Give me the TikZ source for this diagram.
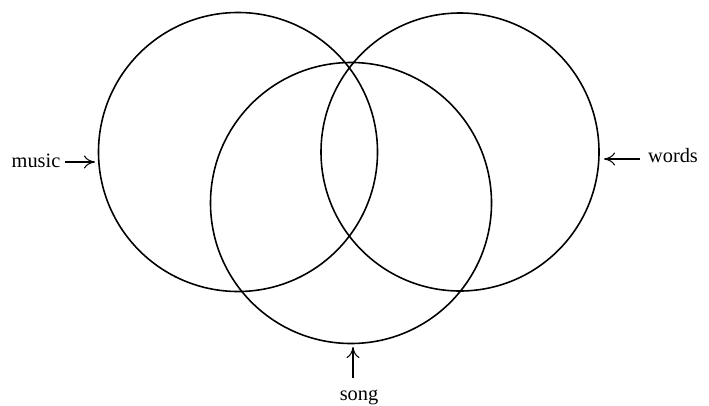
\documentclass[tikz,border=0pt]{standalone}
\usepackage{fontspec}
\setmainfont{Liberation Serif}
\usepackage{tikz}
\usetikzlibrary{
    arrows.meta,
    calc
}

\tikzset{
    ring/.style={line width=0.9pt},
    pointer/.style={-{To[length=2.2mm,width=2.6mm]}, line width=0.6pt},
    lbl/.style={font=\fontsize{11.6}{14}\selectfont, inner sep=1pt}
}

\begin{document}
\begin{tikzpicture}

\useasboundingbox (0,0) rectangle (14.18,8.10);

% Circles
\draw[ring] (4.76,5.06) circle (2.79);
\draw[ring] (9.20,5.06) circle (2.78);
\draw[ring] (7.02,4.04) circle (2.81);

% Labels
\node[lbl] (music) at (0.72,4.88) {music};
\node[lbl] (words) at (13.46,4.98) {words};
\node[lbl, anchor=base] (song) at (7.18,0.10) {song};

% Arrow ends on the circles
\coordinate (musictip) at (1.90,4.86);
\coordinate (wordstip) at (12.08,4.92);
\coordinate (songtip) at (7.06,1.16);

% Arrows
\draw[pointer] (music.east |- musictip) ++(0.06,0) -- (musictip);
\draw[pointer] (words.west |- wordstip) ++(-0.12,0) -- (wordstip);
\draw[pointer] (songtip |- song.north) ++(0,0.18) -- (songtip);

\end{tikzpicture}
\end{document}
